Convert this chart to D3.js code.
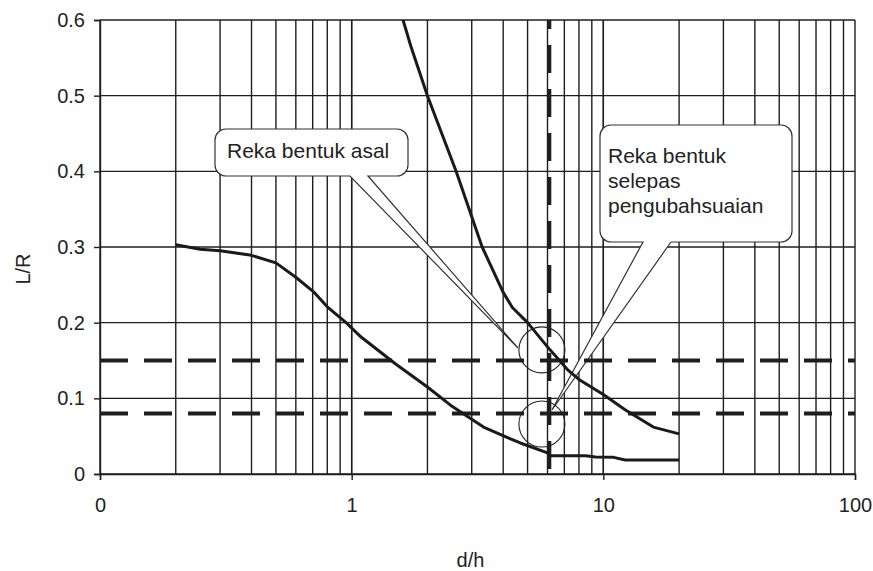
<!DOCTYPE html>
<html>
<head>
<meta charset="utf-8">
<script src="https://cdn.jsdelivr.net/npm/d3@7"></script>
<style>
  body { margin: 0; background: #fff; }
  text { font-family: "Liberation Sans", Arial, sans-serif; fill: #222; }
</style>
</head>
<body>
<div id="chart"></div>
<script>
// data
const originalDesign = [
  [0.2, 0.303], [0.25, 0.297], [0.3, 0.295], [0.4, 0.289], [0.5, 0.279],
  [0.6, 0.26], [0.71, 0.24], [0.8, 0.221], [0.95, 0.2], [1.09, 0.181],
  [1.5, 0.145], [2.0, 0.115], [2.47, 0.091], [3.34, 0.062], [4.1, 0.049],
  [4.68, 0.041], [6.0, 0.028], [6.1, 0.024], [8.5, 0.024], [9.3, 0.0225],
  [11, 0.022], [12.2, 0.0185], [20, 0.0185]
];
const modifiedDesign = [
  [1.55, 0.63], [1.6, 0.6], [1.72, 0.565], [2.0, 0.5], [2.6, 0.4], [3.3, 0.3],
  [4.0, 0.24], [4.35, 0.22], [5.0, 0.2], [6.0, 0.168], [7.2, 0.138],
  [8.0, 0.125], [10, 0.105], [12.2, 0.085], [15.8, 0.062], [20, 0.053]
];
const limitsY = [0.15, 0.08];
const limitX = 6.1;
const xTicks = [0.1, 1, 10, 100];
const xTickLabels = ["0", "1", "10", "100"];
const yTicks = [0, 0.1, 0.2, 0.3, 0.4, 0.5, 0.6];
const markers = [[5.7, 0.164], [5.7, 0.066]];
const notes = [
  { lines: ["Reka bentuk asal"], tip: [4.58, 0.1665] },
  { lines: ["Reka bentuk", "selepas", "pengubahsuaian"], tip: [6.25, 0.0846] }
];

const chart = {};
chart.margin = { top: 20, right: 18, bottom: 97, left: 100 };
chart.width = 873 - chart.margin.left - chart.margin.right;
chart.height = 571 - chart.margin.top - chart.margin.bottom;

const svg = d3.select("#chart").append("svg")
  .attr("width", 873).attr("height", 571)
  .append("g")
  .attr("transform", `translate(${chart.margin.left},${chart.margin.top})`);

const x = d3.scaleLog().domain([0.1, 100]).range([0, chart.width]);
const y = d3.scaleLinear().domain([0, 0.6]).range([chart.height, 0]);

svg.append("clipPath").attr("id", "clip")
  .append("rect").attr("width", chart.width).attr("height", chart.height);

// grid
const gridX = [];
[0.1, 1, 10].forEach(d => { for (let k = 1; k <= 10; k++) gridX.push(d * k); });
svg.append("g").selectAll("line").data(gridX).enter().append("line")
  .attr("x1", d => x(d)).attr("x2", d => x(d))
  .attr("y1", 0).attr("y2", chart.height)
  .attr("stroke", "#1e1e1e").attr("stroke-width", 1.4);
svg.append("g").selectAll("line").data(yTicks).enter().append("line")
  .attr("x1", 0).attr("x2", chart.width)
  .attr("y1", d => y(d)).attr("y2", d => y(d))
  .attr("stroke", "#1e1e1e").attr("stroke-width", 1.4);

// axes
const yAxis = svg.append("g").call(d3.axisLeft(y).tickValues(yTicks).tickSize(6).tickPadding(9)
  .tickFormat(d => d === 0 ? "0" : d3.format(".1f")(d)));
const xAxis = svg.append("g").attr("transform", `translate(0,${chart.height})`)
  .call(d3.axisBottom(x).tickValues(xTicks).tickSize(6).tickPadding(18)
    .tickFormat((d, i) => xTickLabels[i]));
[yAxis, xAxis].forEach(a => {
  a.select(".domain").attr("stroke", "#1e1e1e").attr("stroke-width", 1.4);
  a.selectAll(".tick line").attr("stroke", "#1e1e1e").attr("stroke-width", 1.4);
  a.selectAll("text").attr("font-size", 20).attr("fill", "#222");
});

// callouts
function callout(x0, y0, x1, y1, r, tb0, tb1, tip) {
  return `M${x0 + r},${y0}H${x1 - r}A${r},${r} 0 0 1 ${x1},${y0 + r}V${y1 - r}` +
    `A${r},${r} 0 0 1 ${x1 - r},${y1}H${tb1}L${tip[0]},${tip[1]}L${tb0},${y1}H${x0 + r}` +
    `A${r},${r} 0 0 1 ${x0},${y1 - r}V${y0 + r}A${r},${r} 0 0 1 ${x0 + r},${y0}Z`;
}
const boxes = [
  { x0: 115, y0: 109, x1: 308, y1: 156, tb0: 250, tb1: 268, tx: 127, ty: 138 },
  { x0: 500, y0: 105, x1: 692, y1: 222, tb0: 543, tb1: 571, tx: 508, ty: 143 }
];
notes.forEach((n, i) => {
  const b = boxes[i];
  const tip = [x(n.tip[0]), y(n.tip[1])];
  svg.append("path").attr("d", callout(b.x0, b.y0, b.x1, b.y1, 11, b.tb0, b.tb1, tip))
    .attr("fill", "#fff").attr("stroke", "#333").attr("stroke-width", 1.2);
  n.lines.forEach((t, j) => {
    svg.append("text").attr("x", b.tx).attr("y", b.ty + j * 25)
      .attr("font-size", 21).text(t);
  });
});

// limit lines
svg.append("g").selectAll("line").data(limitsY).enter().append("line")
  .attr("x1", 0).attr("x2", chart.width)
  .attr("y1", d => y(d)).attr("y2", d => y(d))
  .attr("stroke", "#1e1e1e").attr("stroke-width", 4)
  .attr("stroke-dasharray", "28,16");
svg.append("line")
  .attr("x1", x(limitX)).attr("x2", x(limitX))
  .attr("y1", 0).attr("y2", chart.height)
  .attr("stroke", "#1e1e1e").attr("stroke-width", 4)
  .attr("stroke-dasharray", "28,16").attr("stroke-dashoffset", 19);

// curves
const line = d3.line().x(d => x(d[0])).y(d => y(d[1]));
[originalDesign, modifiedDesign].forEach(s => {
  svg.append("path").datum(s)
    .attr("clip-path", "url(#clip)")
    .attr("fill", "none")
    .attr("stroke", "#1a1a1a")
    .attr("stroke-width", 3)
    .attr("stroke-linejoin", "round")
    .attr("d", line);
});

// circle markers
svg.append("g").selectAll("circle").data(markers).enter().append("circle")
  .attr("cx", d => x(d[0])).attr("cy", d => y(d[1])).attr("r", 23)
  .attr("fill", "none").attr("stroke", "#222").attr("stroke-width", 1.1);

// axis titles
svg.append("text")
  .attr("transform", `translate(${-70},${y(0.3) + 22}) rotate(-90)`)
  .attr("text-anchor", "middle").attr("font-size", 20).text("L/R");
svg.append("text")
  .attr("x", chart.width / 2 - 7).attr("y", chart.height + 93)
  .attr("text-anchor", "middle").attr("font-size", 20).text("d/h");
</script>
</body>
</html>
